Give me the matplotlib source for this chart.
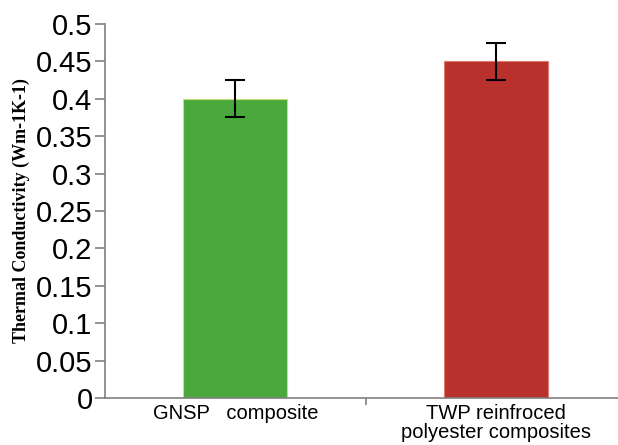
import matplotlib
matplotlib.use("Agg")
from matplotlib import pyplot as plt

# data
categories = ["GNSP   composite", "TWP reinfroced\npolyester composites"]
values = [0.40, 0.45]
errors = [0.025, 0.025]
yticks = [0, 0.05, 0.1, 0.15, 0.2, 0.25, 0.3, 0.35, 0.4, 0.45, 0.5]
ytick_labels = ["0", "0.05", "0.1", "0.15", "0.2", "0.25", "0.3", "0.35", "0.4", "0.45", "0.5"]

# style
bar_colors = ["#4aa93c", "#b8312d"]
edge_colors = ["#c8e07a", "#e07a6a"]
axis_color = "#7f7f7f"

fig = plt.figure(figsize=(6.18, 4.45), dpi=100)
ax = fig.add_axes([0.170, 0.1056, 0.843, 0.8405])

x = list(range(len(categories)))
ax.bar(x, values, width=0.40, color=bar_colors, edgecolor=edge_colors, linewidth=0.8)
ax.errorbar(x, values, yerr=errors, fmt="none", ecolor="black",
            elinewidth=1.5, capsize=7, capthick=1.5)

ax.set_xlim(-0.5, 1.5)
ax.set_ylim(0, 0.5)
ax.set_yticks(yticks)
ax.set_yticklabels(ytick_labels, fontfamily="Liberation Sans", fontsize=21)
ax.set_xticks(x)
ax.set_xticklabels(categories, fontfamily="Liberation Sans", fontsize=14.5,
                   linespacing=1.0)
ax.set_xticks([0.5], minor=True)

for side in ["top", "right"]:
    ax.spines[side].set_visible(False)
for side in ["left", "bottom"]:
    ax.spines[side].set_color(axis_color)
    ax.spines[side].set_linewidth(1.2)

ax.tick_params(axis="y", colors=axis_color, labelcolor="black", length=7, width=1.2, pad=2)
ax.tick_params(axis="x", which="major", length=0, pad=4, labelcolor="black")
ax.tick_params(axis="x", which="minor", length=5, width=1.2, colors=axis_color)

ax.set_ylabel("Thermal Conductivity (Wm-1K-1)", fontfamily="Liberation Serif",
              fontweight="bold", fontsize=13)
ax.yaxis.set_label_coords(-0.145, 0.5)

fig.savefig("out.png", dpi=100)
